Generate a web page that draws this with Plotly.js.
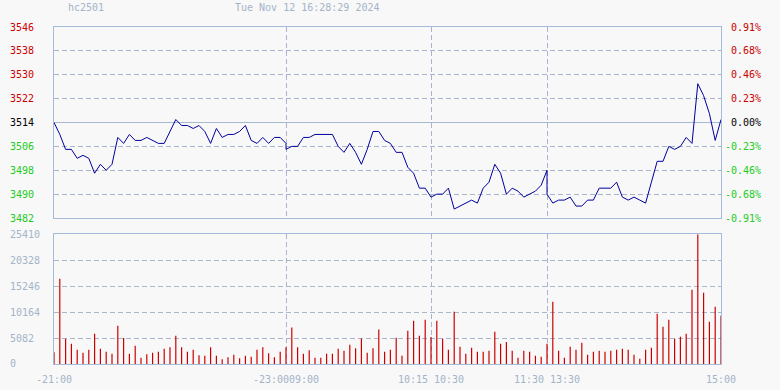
<!DOCTYPE html>
<html><head><meta charset="utf-8">
<script src="https://cdn.plot.ly/plotly-3.0.1.min.js"></script>
<style>html,body{margin:0;padding:0;background:#f8f8f8}</style>
</head><body><div id="chart" style="width:780px;height:390px"></div>
<script>
// ---- data ----
const symbol = "hc2501";
const stamp = "Tue Nov 12 16:28:29 2024";
const prevClose = 3514;
const sessions = [["21:00","23:00"],["09:00","10:15"],["10:30","11:30"],["13:30","15:00"]];
const stepMin = 3;

const priceNight = [3514,3510,3505,3505,3502,3503,3502,3497,3500,3498,3500,3509,3507,3510,3508,3508,3509,3508,3507,3507,3511,3515,3513,3513,3512,3513,3511,3507,3512,3509,3510,3510,3511,3513,3508,3507,3509,3507,3509,3509,3507];
const priceAM1 = [3505,3506,3506,3509,3509,3510,3510,3510,3510,3506,3504,3507,3504,3500,3505,3511,3511,3508,3507,3504,3504,3499,3497,3492,3492,3489];
const priceAM2 = [3489,3490,3490,3492,3485,3486,3487,3488,3487,3492,3494,3500,3497,3490,3492,3491,3489,3490,3491,3493,3498];
const pricePM = [3490,3487,3488,3488,3489,3486,3486,3488,3488,3492,3492,3492,3494,3489,3488,3489,3488,3487,3494,3501,3501,3506,3505,3506,3509,3507,3527,3523,3517,3508,3515];

const volNight = [2282,16690,4955,3977,2804,2217,2804,5933,2999,2412,2021,7498,5086,2021,3586,1239,1891,2217,2412,2999,3260,5542,3260,2412,2804,1695,1630,3260,1630,913,1304,1826,1108,1630,1434,2804,3260,2086,1304,2412,3260];
const volAM1 = [null,7172,3260,2021,2673,1239,1239,2021,2021,2999,2608,3782,3064,5020,2217,3064,6781,2412,2804,5151,1630,6520,8476,5542,8672,5281];
const volAM2 = [null,8476,4955,2804,10236,3390,2021,3195,2412,2412,2608,6324,3977,4303,2608,1239,2608,2412,1630,1434,3977];
const volPM = [null,12192,2608,1239,3390,2804,4173,1826,2412,2608,2412,2608,2804,2999,2804,1826,1043,2804,3195,9845,7302,8672,4955,5346,5933,14540,25410,13953,8280,11214,9454];

const priceTicks = [3482,3490,3498,3506,3514,3522,3530,3538,3546];
const pctLabels = ["-0.91%","-0.68%","-0.46%","-0.23%","0.00%","0.23%","0.46%","0.68%","0.91%"];
const volTicks = [0,5082,10164,15246,20328,25410];
const xTickText = ["-21:00","-23:0009:00","10:15 10:30","11:30 13:30","15:00"];

// ---- helpers ----
const toMin = t => { const [h,m] = t.split(":").map(Number); return h*60+m; };
const fmtT = m => String(Math.floor(m/60)).padStart(2,"0")+":"+String(m%60).padStart(2,"0");
const xs = [], times = [], sessionEdges = [0];
let offset = 0;
sessions.forEach(([a,b]) => {
  let s = toMin(a), e = toMin(b); if (e < s) e += 1440;
  for (let m = s; m <= e; m += stepMin) { xs.push(offset + (m - s)); times.push(fmtT(m % 1440)); }
  offset += e - s; sessionEdges.push(offset);
});
const prices = [].concat(priceNight, priceAM1, priceAM2, pricePM);
const vols = [].concat(volNight, volAM1, volAM2, volPM);

// volume sticks as vertical segments
const vx = [], vy = [];
xs.forEach((x,i) => { if (vols[i] != null) { vx.push(x, x, null); vy.push(0, vols[i], null); } });

const RED = "#cc0000", GREEN = "#22cc22", BLACK = "#000000";
const col = v => v > prevClose ? RED : (v < prevClose ? GREEN : BLACK);
const NB = "\u00a0";
const priceText = priceTicks.map(v => `<span style="color:${col(v)}">${String(v).padEnd(5, NB)}</span>`);
const pctText = priceTicks.map((v,i) => `<span style="color:${col(v)}">${pctLabels[i].padStart(6, NB)}</span>`);
const volText = volTicks.map(v => String(v).padEnd(5, NB));

const FONT = "DejaVu Sans Mono, monospace";
const border = "#a4bbd9";
const grid = "#a7b6ca";
const label = "#a3b4c9";
const dash = "5px,3px";

const traces = [
  {type:"scatter", mode:"lines", x:xs, y:prices, text:times, xaxis:"x", yaxis:"y",
   line:{color:"#00009c", width:1}, hoverinfo:"text+y"},
  {type:"scatter", mode:"lines", x:vx, y:vy, xaxis:"x2", yaxis:"y2", connectgaps:false,
   line:{color:"#cc0000", width:1.2}, hoverinfo:"skip"}
];

const axBase = {showline:true, mirror:true, linecolor:border, linewidth:1, zeroline:false,
  ticks:"", showgrid:true, gridcolor:grid, griddash:dash, gridwidth:1, fixedrange:true};

const layout = {
  width:780, height:390, margin:{l:54, r:59, t:27, b:26},
  paper_bgcolor:"#f8f8f8", plot_bgcolor:"#f8f8f8", showlegend:false,
  font:{family:FONT, size:10, color:label},
  xaxis:Object.assign({}, axBase, {domain:[0,1], anchor:"y", range:[0, sessionEdges[4]],
    tickvals:sessionEdges, showticklabels:false}),
  yaxis:Object.assign({}, axBase, {domain:[0.4332,1], anchor:"x", range:[3482,3546],
    tickvals:priceTicks, ticktext:priceText, ticklabelstandoff:11, tickfont:{family:FONT,size:10,color:BLACK}}),
  yaxis3:{overlaying:"y", side:"right", anchor:"x", range:[3482,3546], tickvals:priceTicks,
    ticktext:pctText, showgrid:false, zeroline:false, showline:false, ticks:"", ticklabelstandoff:3,
    tickfont:{family:FONT,size:10,color:BLACK}, fixedrange:true},
  xaxis2:Object.assign({}, axBase, {domain:[0,1], anchor:"y2", range:[0, sessionEdges[4]],
    tickvals:sessionEdges, ticktext:xTickText, ticklabelstandoff:6, tickfont:{family:FONT,size:10,color:label}}),
  yaxis2:Object.assign({}, axBase, {domain:[0,0.3849], anchor:"x2", range:[0,25410],
    tickvals:volTicks, ticktext:volText, ticklabelstandoff:11, tickfont:{family:FONT,size:10,color:label}}),
  shapes:[{type:"line", xref:"paper", yref:"y", x0:0, x1:1, y0:prevClose, y1:prevClose,
    line:{color:border, width:1}, layer:"below"}],
  annotations:[
    {text:symbol, xref:"paper", yref:"paper", x:0.0175, y:1.0593, xanchor:"left", yanchor:"middle",
     showarrow:false, font:{family:FONT,size:10,color:label}},
    {text:stamp, xref:"paper", yref:"paper", x:0.2684, y:1.0593, xanchor:"left", yanchor:"middle",
     showarrow:false, font:{family:FONT,size:10,color:label}}
  ]
};
// helper trace so the right-hand percent axis is drawn
traces.push({type:"scatter", mode:"lines", x:[0], y:[prevClose], xaxis:"x", yaxis:"y3",
  line:{width:0}, hoverinfo:"skip", showlegend:false});

Plotly.newPlot("chart", traces, layout, {displayModeBar:false, staticPlot:true});
</script></body></html>
